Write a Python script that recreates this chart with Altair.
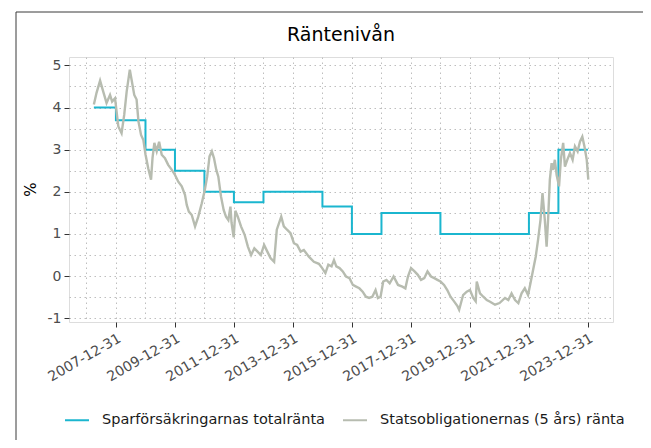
import altair as alt
import pandas as pd

TITLE = "Räntenivån"
Y_TITLE = "%"
SERIES = ["Sparförsäkringarnas totalränta", "Statsobligationernas (5 års) ränta"]
COLORS = ["#1BB6CF", "#B7BCB0"]

# Sparförsäkringarnas totalränta (step, value valid from date)
step_dates = ["2007-04-02", "2007-12-31", "2008-12-31", "2009-12-31", "2010-12-31",
              "2011-12-31", "2012-12-31", "2014-12-31", "2015-12-31", "2016-12-31",
              "2018-12-31", "2021-12-31", "2022-12-31", "2023-12-31"]
step_values = [4.0, 3.7, 3.0, 2.5, 2.0, 1.75, 2.0, 1.65, 1.0, 1.5, 1.0, 1.5, 3.0, 3.0]

# Statsobligationernas (5 års) ränta
bond_dates = [
    "2007-04-02", "2007-05-05", "2007-06-18", "2007-07-27", "2007-09-06", "2007-10-19",
    "2007-11-14", "2007-12-20", "2008-01-08", "2008-01-30", "2008-03-10", "2008-04-12",
    "2008-05-12", "2008-06-20", "2008-07-12", "2008-08-14", "2008-09-12", "2008-10-05",
    "2008-11-06", "2008-12-05", "2009-01-01", "2009-02-03", "2009-03-10", "2009-03-28",
    "2009-04-20", "2009-05-19", "2009-06-18", "2009-07-20", "2009-08-29", "2009-10-08",
    "2009-11-22", "2010-01-01", "2010-02-10", "2010-03-25", "2010-05-04", "2010-05-26",
    "2010-06-21", "2010-07-27", "2010-09-06", "2010-10-16", "2010-11-28", "2011-01-01",
    "2011-02-03", "2011-03-04", "2011-04-02", "2011-04-28", "2011-05-27", "2011-06-21",
    "2011-07-24", "2011-08-26", "2011-09-24", "2011-10-23", "2011-11-18", "2011-12-02",
    "2011-12-28", "2012-01-18", "2012-02-17", "2012-03-28", "2012-05-12", "2012-06-21",
    "2012-07-31", "2012-09-09", "2012-10-19", "2012-11-28", "2013-01-08", "2013-02-17",
    "2013-03-28", "2013-05-12", "2013-06-14", "2013-08-08", "2013-09-09", "2013-10-19",
    "2013-12-01", "2014-01-12", "2014-02-21", "2014-04-05", "2014-05-15", "2014-07-16",
    "2014-09-16", "2014-11-17", "2014-12-28", "2015-02-06", "2015-03-14", "2015-04-23",
    "2015-05-23", "2015-06-21", "2015-07-31", "2015-09-09", "2015-10-19", "2015-12-01",
    "2016-01-12", "2016-02-21", "2016-04-01", "2016-05-12", "2016-06-21", "2016-07-31",
    "2016-09-09", "2016-10-19", "2016-11-17", "2016-12-20", "2017-01-22", "2017-03-03",
    "2017-04-12", "2017-05-30", "2017-07-24", "2017-09-16", "2017-10-23", "2017-11-24",
    "2018-01-01", "2018-02-14", "2018-03-26", "2018-05-05", "2018-06-14", "2018-07-24",
    "2018-09-06", "2018-10-16", "2018-11-24", "2019-01-01", "2019-02-14", "2019-03-26",
    "2019-05-05", "2019-06-18", "2019-08-01", "2019-08-20", "2019-10-08", "2019-11-22",
    "2020-01-01", "2020-02-10", "2020-03-12", "2020-03-25", "2020-05-04", "2020-06-14",
    "2020-07-27", "2020-09-06", "2020-11-06", "2021-01-01", "2021-03-10", "2021-04-20",
    "2021-05-30", "2021-07-12", "2021-08-22", "2021-10-01", "2021-11-10", "2021-12-20",
    "2022-01-19", "2022-02-21", "2022-03-25", "2022-04-23", "2022-05-23", "2022-06-17",
    "2022-07-16", "2022-08-07", "2022-08-25", "2022-09-16", "2022-10-08", "2022-10-26",
    "2022-11-17", "2022-12-09", "2023-01-08", "2023-01-30", "2023-02-28", "2023-03-22",
    "2023-04-20", "2023-05-23", "2023-06-25", "2023-07-24", "2023-08-26", "2023-09-24",
    "2023-10-23", "2023-11-18", "2023-12-17", "2024-01-05",
]
bond_values = [
    4.07, 4.35, 4.64, 4.38, 4.11, 4.30,
    4.14, 4.22, 3.91, 3.55, 3.39, 3.83,
    4.38, 4.90, 4.66, 4.30, 4.19, 3.67,
    3.35, 3.23, 2.88, 2.56, 2.29, 2.80,
    3.16, 2.96, 3.19, 2.88, 2.80, 2.64,
    2.52, 2.40, 2.24, 2.13, 1.93, 1.69,
    1.53, 1.45, 1.18, 1.41, 1.73, 2.01,
    2.36, 2.84, 2.96, 2.80, 2.52, 2.36,
    1.89, 1.57, 1.41, 1.33, 1.65, 1.26,
    0.92, 1.55, 1.41, 1.18, 0.98, 0.70,
    0.50, 0.66, 0.58, 0.50, 0.74, 0.58,
    0.43, 0.34, 1.10, 1.41, 1.18, 1.10,
    1.02, 0.78, 0.74, 0.58, 0.62, 0.46,
    0.34, 0.29, 0.19, 0.07, 0.27, 0.23,
    0.38, 0.23, 0.19, 0.11, -0.01, -0.05,
    -0.21, -0.25, -0.29, -0.37, -0.49, -0.52,
    -0.49, -0.33, -0.52, -0.49, -0.13, -0.09,
    -0.17, -0.01, -0.21, -0.25, -0.29, -0.01,
    0.19, 0.11, 0.03, -0.09, -0.05, 0.11,
    -0.01, -0.05, -0.09, -0.13, -0.21, -0.33,
    -0.49, -0.60, -0.72, -0.80, -0.45, -0.37,
    -0.33, -0.52, -0.60, -0.13, -0.41, -0.49,
    -0.57, -0.61, -0.68, -0.64, -0.52, -0.57,
    -0.41, -0.57, -0.64, -0.41, -0.29, -0.45,
    -0.17, 0.15, 0.46, 0.86, 1.33, 1.97,
    1.33, 0.70, 1.33, 2.29, 2.68, 2.52,
    2.76, 2.40, 2.13, 2.76, 3.16, 2.60,
    2.76, 2.92, 2.76, 3.08, 2.96, 3.19,
    3.31, 3.08, 2.76, 2.29,
]

x_grid_dates = [f"{y}-12-31" for y in range(2006, 2024)]
y_grid_values = [-1, -0.5, 0, 0.5, 1, 1.5, 2, 2.5, 3, 3.5, 4, 4.5, 5]
x_domain = ["2006-05-29", "2024-11-06"]
y_domain = [-1.09, 5.2]


def ms(dates):
    return [int(pd.Timestamp(d, tz="UTC").value // 10**6) for d in dates]


df_step = pd.DataFrame({"date": ms(step_dates), "value": step_values, "serie": SERIES[0]})
df_bond = pd.DataFrame({"date": ms(bond_dates), "value": bond_values, "serie": SERIES[1]})

FONT = "DejaVu Sans"
GRID = dict(grid=True, gridColor="#BEBEBE", gridDash=[1.5, 3.5], gridWidth=1)

x_enc = alt.X(
    "date:T",
    scale=alt.Scale(type="utc", domain=ms(x_domain), nice=False),
    axis=alt.Axis(
        values=ms(x_grid_dates), format="%Y-%m-%d",
        labelExpr="utcyear(datum.value) % 2 == 1 ? datum.label : ''",
        tickOpacity={"condition": {"test": "utcyear(datum.value) % 2 == 1", "value": 1}, "value": 0},
        labelAngle=330, labelAlign="right", labelBaseline="top", labelPadding=4,
        labelFontSize=14, labelColor="#4D4D4D", labelFont=FONT,
        labelOverlap=False, labelFlush=False, labelBound=False,
        tickColor="#333333", tickSize=5, tickWidth=1, domain=False, title=None,
        **GRID,
    ),
)
y_enc = alt.Y(
    "value:Q",
    scale=alt.Scale(domain=y_domain, nice=False, zero=False),
    axis=alt.Axis(
        values=y_grid_values,
        labelExpr="datum.value % 1 == 0 ? toString(datum.value) : ''",
        tickOpacity={"condition": {"test": "datum.value % 1 == 0", "value": 1}, "value": 0},
        labelFontSize=14, labelColor="#4D4D4D", labelFont=FONT, labelPadding=3,
        tickColor="#333333", tickSize=5, tickWidth=1, domain=False,
        title=Y_TITLE, titleFontSize=15, titleFont=FONT, titleFontWeight="normal",
        titleColor="black", titleX=-39, titleY=132, titleAlign="center",
        titleBaseline="middle", titleAngle=270,
        **GRID,
    ),
)
color_enc = alt.Color(
    "serie:N",
    scale=alt.Scale(domain=SERIES, range=COLORS),
    legend=alt.Legend(
        orient="none", legendX=-5, legendY=350, direction="horizontal", title=None,
        symbolType="stroke", symbolSize=576, symbolStrokeWidth=2,
        labelFontSize=14.5, labelFont=FONT, labelColor="#1A1A1A",
        labelOffset=12, columnPadding=13, labelLimit=400,
    ),
)

step = alt.Chart(df_step).mark_line(interpolate="step-after", strokeWidth=2).encode(
    x=x_enc, y=y_enc, color=color_enc)
bond = alt.Chart(df_bond).mark_line(strokeWidth=2.4).encode(
    x=x_enc, y=y_enc, color=color_enc)

frame = alt.Chart(alt.Data(values=[{"k": 1}])).mark_rect(
    fill="transparent", stroke="#3A3A3A", strokeWidth=1).encode(
    x=alt.value(-53), x2=alt.value(575), y=alt.value(-45), y2=alt.value(420))

chart = alt.layer(step, bond, frame).properties(
    width=544, height=265,
    title=alt.TitleParams(TITLE, fontSize=19, font=FONT, fontWeight="normal",
                          anchor="middle", frame="group", offset=-48,
                          baseline="alphabetic", color="black"),
    autosize=alt.AutoSizeParams(type="none"),
    padding={"left": 61, "top": 49, "right": 30, "bottom": 118},
).configure_view(stroke="#333333", strokeWidth=1).configure(font=FONT)

chart.save("out.html", embed_options={"renderer": "svg", "actions": False})
